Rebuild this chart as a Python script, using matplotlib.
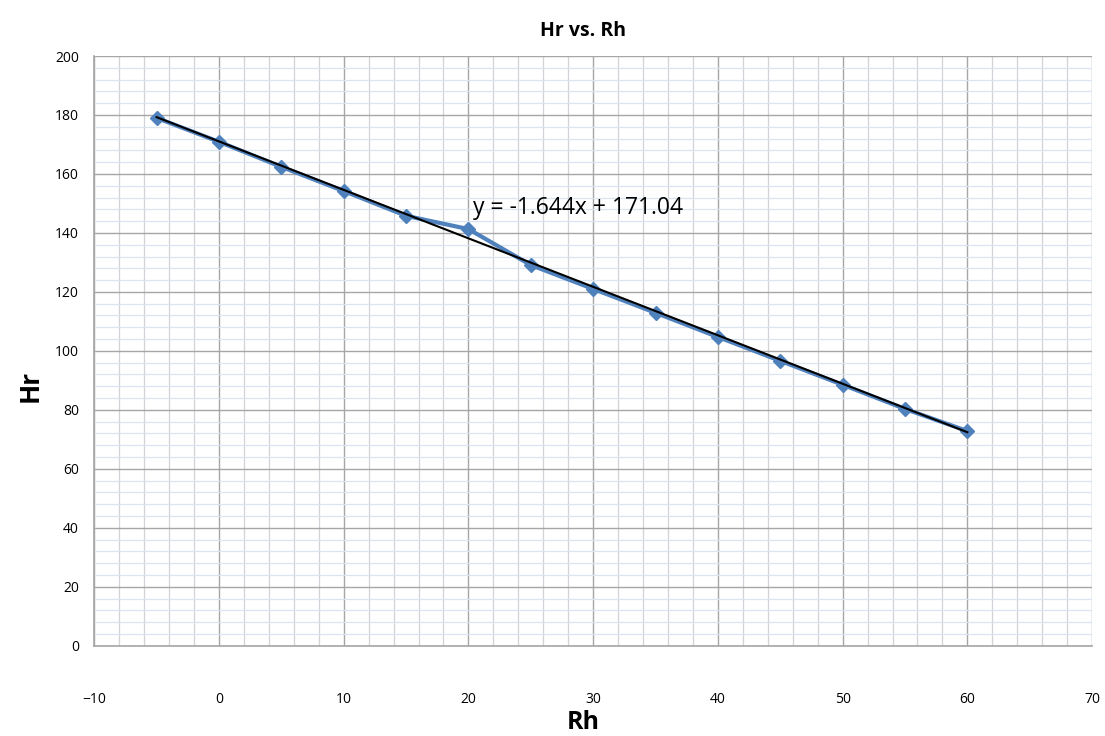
import numpy as np
import matplotlib.pyplot as plt
from matplotlib.ticker import MultipleLocator

# Rh / Hr readings
rh = [-5, 0, 5, 10, 15, 20, 25, 30, 35, 40, 45, 50, 55, 60]
hr = [179.0, 170.9, 162.4, 154.2, 145.8, 141.3, 129.1, 121.0, 112.9, 104.7, 96.6, 88.5, 80.3, 72.8]

# linear trendline
slope = -1.644
intercept = 171.04

plt.rcParams['font.family'] = ['Open Sans', 'DejaVu Sans']

fig = plt.figure(figsize=(11.05, 7.36), dpi=100)
ax = fig.add_axes([0.0853, 0.1227, 0.9030, 0.8012])

ax.set_xlim(-10, 70)
ax.set_ylim(0, 200)
ax.xaxis.set_major_locator(MultipleLocator(10))
ax.xaxis.set_minor_locator(MultipleLocator(2))
ax.yaxis.set_major_locator(MultipleLocator(20))
ax.yaxis.set_minor_locator(MultipleLocator(4))

ax.grid(which='major', color='#a6a6a6', linewidth=1.0)
ax.grid(which='minor', axis='x', color='#d0d3d8', linewidth=0.9)
ax.grid(which='minor', axis='y', color='#dbe5f1', linewidth=0.9)
ax.set_axisbelow(True)

for side in ['top', 'right']:
    ax.spines[side].set_visible(False)
for side in ['left', 'bottom']:
    ax.spines[side].set_color('#a6a6a6')
    ax.spines[side].set_linewidth(1.2)

ax.tick_params(which='both', length=0)
ax.tick_params(axis='x', pad=33, labelsize=10)
ax.tick_params(axis='y', pad=11, labelsize=10)

ax.plot(rh, hr, color='#4f81bd', linewidth=3, marker='D', markersize=7,
        markerfacecolor='#4f81bd', markeredgecolor='#4f81bd', zorder=3)

xt = np.array([rh[0], rh[-1]])
ax.plot(xt, slope * xt + intercept, color='black', linewidth=1.5, zorder=4)

ax.text(20.4, 148.5, f'y = {slope}x + {intercept}', fontsize=16.5,
        va='center', ha='left', zorder=5)

fig.text(0.528, 0.958, 'Hr vs. Rh', ha='center', va='center',
         fontsize=14, fontweight='bold')
fig.text(0.528, 0.018, 'Rh', ha='center', va='center',
         fontsize=18, fontweight='bold')
fig.text(0.027, 0.475, 'Hr', ha='center', va='center', rotation=90,
         fontsize=19, fontweight='bold')

fig.savefig('out.png', dpi=100)
